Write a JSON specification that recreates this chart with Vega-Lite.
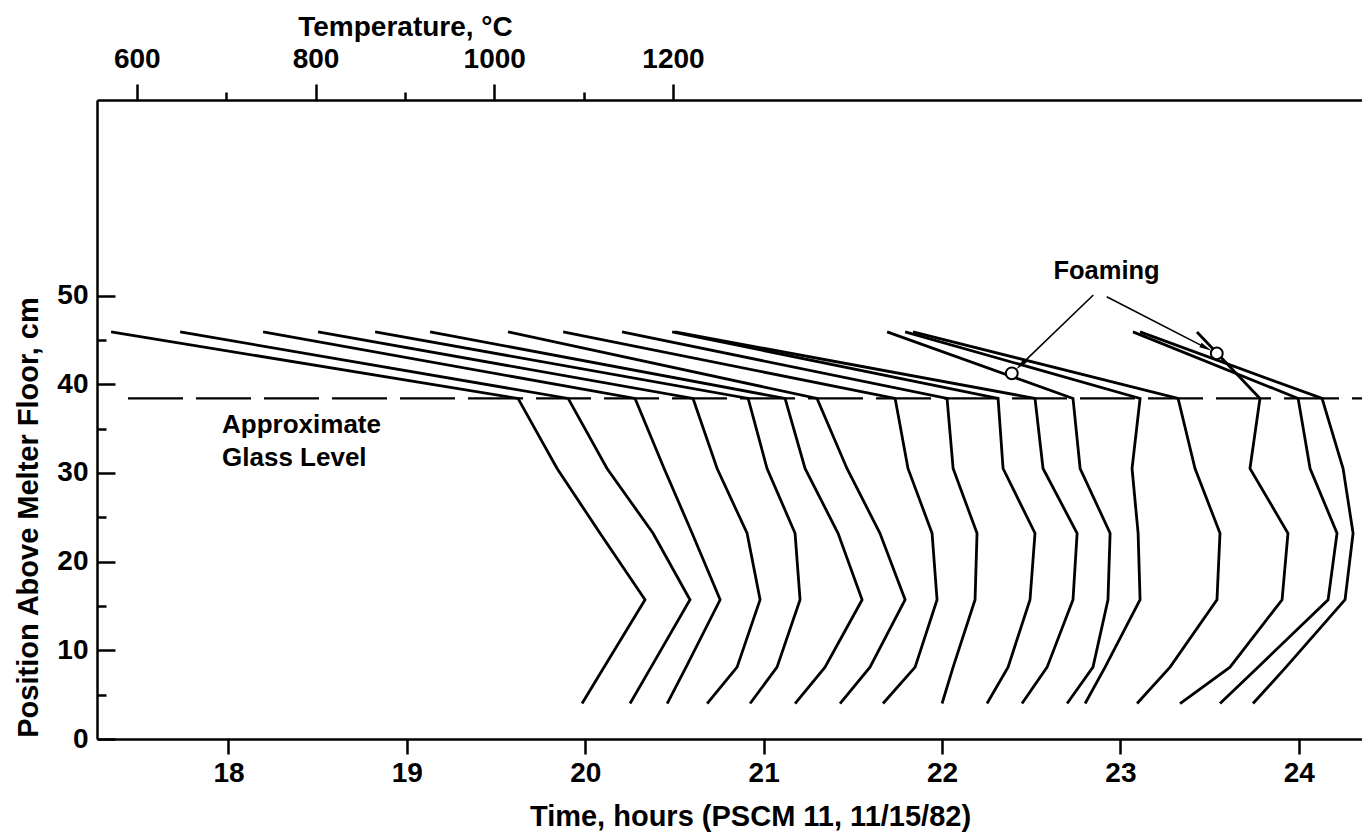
{
  "$schema": "https://vega.github.io/schema/vega-lite/v6.json",
  "width": 1265,
  "height": 639,
  "autosize": {"type": "none"},
  "padding": {"left": 97, "top": 100, "right": 0, "bottom": 95},
  "background": "white",
  "config": {
    "view": {"stroke": null},
    "axis": {
      "grid": false,
      "domainColor": "black",
      "domainWidth": 2.5,
      "tickColor": "black",
      "tickWidth": 2.5,
      "labelColor": "black",
      "titleColor": "black",
      "labelFont": "Liberation Sans",
      "titleFont": "Liberation Sans",
      "labelFontWeight": "bold",
      "titleFontWeight": "bold",
      "labelFontSize": 28,
      "titleFontSize": 28,
      "labelFlush": false,
      "labelOverlap": false
    }
  },
  "datasets": {
    "prof": [
      {"p": 1, "t": 17.342, "h": 45.9}, {"p": 1, "t": 19.623, "h": 38.4}, {"p": 1, "t": 19.842, "h": 30.5}, {"p": 1, "t": 20.083, "h": 23.2}, {"p": 1, "t": 20.335, "h": 15.7}, {"p": 1, "t": 20.105, "h": 8.1}, {"p": 1, "t": 19.982, "h": 4.0},
      {"p": 2, "t": 17.729, "h": 45.9}, {"p": 2, "t": 19.904, "h": 38.4}, {"p": 2, "t": 20.122, "h": 30.5}, {"p": 2, "t": 20.380, "h": 23.2}, {"p": 2, "t": 20.587, "h": 15.7}, {"p": 2, "t": 20.369, "h": 8.1}, {"p": 2, "t": 20.251, "h": 4.0},
      {"p": 3, "t": 18.194, "h": 45.9}, {"p": 3, "t": 20.279, "h": 38.4}, {"p": 3, "t": 20.442, "h": 30.5}, {"p": 3, "t": 20.599, "h": 23.2}, {"p": 3, "t": 20.756, "h": 15.7}, {"p": 3, "t": 20.565, "h": 8.1}, {"p": 3, "t": 20.459, "h": 4.0},
      {"p": 4, "t": 18.502, "h": 45.9}, {"p": 4, "t": 20.604, "h": 38.4}, {"p": 4, "t": 20.739, "h": 30.5}, {"p": 4, "t": 20.907, "h": 23.2}, {"p": 4, "t": 20.980, "h": 15.7}, {"p": 4, "t": 20.851, "h": 8.1}, {"p": 4, "t": 20.683, "h": 4.0},
      {"p": 5, "t": 18.822, "h": 45.9}, {"p": 5, "t": 20.913, "h": 38.4}, {"p": 5, "t": 21.019, "h": 30.5}, {"p": 5, "t": 21.176, "h": 23.2}, {"p": 5, "t": 21.204, "h": 15.7}, {"p": 5, "t": 21.075, "h": 8.1}, {"p": 5, "t": 20.924, "h": 4.0},
      {"p": 6, "t": 19.130, "h": 45.9}, {"p": 6, "t": 21.120, "h": 38.4}, {"p": 6, "t": 21.232, "h": 30.5}, {"p": 6, "t": 21.417, "h": 23.2}, {"p": 6, "t": 21.552, "h": 15.7}, {"p": 6, "t": 21.344, "h": 8.1}, {"p": 6, "t": 21.176, "h": 4.0},
      {"p": 7, "t": 19.567, "h": 45.9}, {"p": 7, "t": 21.299, "h": 38.4}, {"p": 7, "t": 21.467, "h": 30.5}, {"p": 7, "t": 21.652, "h": 23.2}, {"p": 7, "t": 21.793, "h": 15.7}, {"p": 7, "t": 21.596, "h": 8.1}, {"p": 7, "t": 21.428, "h": 4.0},
      {"p": 8, "t": 19.876, "h": 45.9}, {"p": 8, "t": 21.737, "h": 38.4}, {"p": 8, "t": 21.809, "h": 30.5}, {"p": 8, "t": 21.944, "h": 23.2}, {"p": 8, "t": 21.972, "h": 15.7}, {"p": 8, "t": 21.849, "h": 8.1}, {"p": 8, "t": 21.669, "h": 4.0},
      {"p": 9, "t": 20.206, "h": 45.9}, {"p": 9, "t": 22.028, "h": 38.4}, {"p": 9, "t": 22.062, "h": 30.5}, {"p": 9, "t": 22.196, "h": 23.2}, {"p": 9, "t": 22.185, "h": 15.7}, {"p": 9, "t": 22.062, "h": 8.1}, {"p": 9, "t": 22.000, "h": 4.0},
      {"p": 10, "t": 20.487, "h": 45.9}, {"p": 10, "t": 22.314, "h": 38.4}, {"p": 10, "t": 22.342, "h": 30.5}, {"p": 10, "t": 22.521, "h": 23.2}, {"p": 10, "t": 22.493, "h": 15.7}, {"p": 10, "t": 22.370, "h": 8.1}, {"p": 10, "t": 22.252, "h": 4.0},
      {"p": 11, "t": 20.503, "h": 45.9}, {"p": 11, "t": 22.521, "h": 38.4}, {"p": 11, "t": 22.566, "h": 30.5}, {"p": 11, "t": 22.757, "h": 23.2}, {"p": 11, "t": 22.734, "h": 15.7}, {"p": 11, "t": 22.589, "h": 8.1}, {"p": 11, "t": 22.448, "h": 4.0},
      {"p": 12, "t": 21.692, "h": 45.9}, {"p": 12, "t": 22.734, "h": 38.4}, {"p": 12, "t": 22.774, "h": 30.5}, {"p": 12, "t": 22.942, "h": 23.2}, {"p": 12, "t": 22.930, "h": 15.7}, {"p": 12, "t": 22.846, "h": 8.1}, {"p": 12, "t": 22.701, "h": 4.0},
      {"p": 13, "t": 21.793, "h": 45.9}, {"p": 13, "t": 23.110, "h": 38.4}, {"p": 13, "t": 23.065, "h": 30.5}, {"p": 13, "t": 23.099, "h": 23.2}, {"p": 13, "t": 23.110, "h": 15.7}, {"p": 13, "t": 22.914, "h": 8.1}, {"p": 13, "t": 22.802, "h": 4.0},
      {"p": 14, "t": 21.837, "h": 45.9}, {"p": 14, "t": 23.323, "h": 38.4}, {"p": 14, "t": 23.418, "h": 30.5}, {"p": 14, "t": 23.558, "h": 23.2}, {"p": 14, "t": 23.541, "h": 15.7}, {"p": 14, "t": 23.278, "h": 8.1}, {"p": 14, "t": 23.093, "h": 4.0},
      {"p": 15, "t": 23.429, "h": 45.9}, {"p": 15, "t": 23.782, "h": 38.4}, {"p": 15, "t": 23.726, "h": 30.5}, {"p": 15, "t": 23.939, "h": 23.2}, {"p": 15, "t": 23.906, "h": 15.7}, {"p": 15, "t": 23.614, "h": 8.1}, {"p": 15, "t": 23.334, "h": 4.0},
      {"p": 16, "t": 23.070, "h": 45.9}, {"p": 16, "t": 23.996, "h": 38.4}, {"p": 16, "t": 24.063, "h": 30.5}, {"p": 16, "t": 24.214, "h": 23.2}, {"p": 16, "t": 24.164, "h": 15.7}, {"p": 16, "t": 23.771, "h": 8.1}, {"p": 16, "t": 23.558, "h": 4.0},
      {"p": 17, "t": 23.110, "h": 45.9}, {"p": 17, "t": 24.130, "h": 38.4}, {"p": 17, "t": 24.248, "h": 30.5}, {"p": 17, "t": 24.304, "h": 23.2}, {"p": 17, "t": 24.259, "h": 15.7}, {"p": 17, "t": 23.928, "h": 8.1}, {"p": 17, "t": 23.743, "h": 4.0}
    ],
    "glass": [{"t1": 17.437, "t2": 24.354, "h": 38.4}],
    "arrows": [
      {"t": 22.848, "h": 50.06, "t2": 22.440, "h2": 42.15},
      {"t": 22.923, "h": 49.86, "t2": 23.480, "h2": 44.10}
    ],
    "head1": [{"t": 22.440, "h": 42.15}],
    "head2": [{"t": 23.480, "h": 44.10}],
    "foam": [{"t": 22.391, "h": 41.23}, {"t": 23.540, "h": 43.48}],
    "labels": [
      {"t": 17.964, "h": 34.5, "label": "Approximate"},
      {"t": 17.964, "h": 30.8, "label": "Glass Level"}
    ],
    "foamlabel": [{"t": 22.922, "h": 51.86, "label": "Foaming"}],
    "temp": [{"T": 600}, {"T": 1200}]
  },
  "layer": [
    {
      "layer": [
        {
          "data": {"name": "glass"},
          "mark": {"type": "rule", "strokeDash": [55, 13], "strokeWidth": 2.2, "color": "black"},
          "encoding": {
            "x": {
              "field": "t1", "type": "quantitative", "title": "Time, hours (PSCM 11, 11/15/82)",
              "scale": {"domain": [17.263, 24.354], "nice": false, "zero": false},
              "axis": {
                "orient": "bottom",
                "values": [18, 19, 20, 21, 22, 23, 24],
                "format": "d",
                "tickSize": 15,
                "labelPadding": 5,
                "titleFontSize": 29,
                "titleX": 653,
                "titleY": 86,
                "titleBaseline": "alphabetic",
                "titleAlign": "center"
              }
            },
            "x2": {"field": "t2"},
            "y": {
              "field": "h", "type": "quantitative", "title": "Position Above Melter Floor, cm",
              "scale": {"domain": [0, 72.05], "nice": false, "zero": false},
              "axis": {
                "values": [0, 5, 10, 15, 20, 25, 30, 35, 40, 45, 50],
                "format": "d",
                "labelExpr": "datum.value % 10 === 0 ? datum.label : ''",
                "tickSize": {"condition": {"test": "datum.value % 10 === 0", "value": -18}, "value": -9},
                "labelPadding": 27,
                "titleFontSize": 29,
                "titleX": -60,
                "titleY": 417,
                "titleBaseline": "alphabetic",
                "titleAlign": "center",
                "titleAngle": -90
              }
            }
          }
        },
        {
          "data": {"name": "prof"},
          "mark": {"type": "line", "color": "black", "strokeWidth": 2.8},
          "encoding": {
            "x": {"field": "t", "type": "quantitative", "title": "Time, hours (PSCM 11, 11/15/82)"},
            "y": {"field": "h", "type": "quantitative", "title": "Position Above Melter Floor, cm"},
            "detail": {"field": "p"},
            "order": {"field": "h", "sort": "descending"}
          }
        },
        {
          "data": {"name": "arrows"},
          "mark": {"type": "rule", "color": "black", "strokeWidth": 1.6},
          "encoding": {
            "x": {"field": "t", "type": "quantitative", "title": "Time, hours (PSCM 11, 11/15/82)"},
            "y": {"field": "h", "type": "quantitative", "title": "Position Above Melter Floor, cm"},
            "x2": {"field": "t2"},
            "y2": {"field": "h2"}
          }
        },
        {
          "data": {"name": "head1"},
          "mark": {"type": "point", "shape": "M0,-1L0.38,1L-0.38,1Z", "size": 160, "filled": true, "color": "black", "opacity": 1, "angle": 226},
          "encoding": {
            "x": {"field": "t", "type": "quantitative", "title": "Time, hours (PSCM 11, 11/15/82)"},
            "y": {"field": "h", "type": "quantitative", "title": "Position Above Melter Floor, cm"}
          }
        },
        {
          "data": {"name": "head2"},
          "mark": {"type": "point", "shape": "M0,-1L0.38,1L-0.38,1Z", "size": 160, "filled": true, "color": "black", "opacity": 1, "angle": 117},
          "encoding": {
            "x": {"field": "t", "type": "quantitative", "title": "Time, hours (PSCM 11, 11/15/82)"},
            "y": {"field": "h", "type": "quantitative", "title": "Position Above Melter Floor, cm"}
          }
        },
        {
          "data": {"name": "foam"},
          "mark": {"type": "point", "shape": "circle", "size": 140, "filled": true, "fill": "white", "stroke": "black", "strokeWidth": 2, "opacity": 1},
          "encoding": {
            "x": {"field": "t", "type": "quantitative", "title": "Time, hours (PSCM 11, 11/15/82)"},
            "y": {"field": "h", "type": "quantitative", "title": "Position Above Melter Floor, cm"}
          }
        },
        {
          "data": {"name": "labels"},
          "mark": {"type": "text", "font": "Liberation Sans", "fontWeight": "bold", "fontSize": 26, "align": "left", "baseline": "alphabetic", "color": "black"},
          "encoding": {
            "x": {"field": "t", "type": "quantitative", "title": "Time, hours (PSCM 11, 11/15/82)"},
            "y": {"field": "h", "type": "quantitative", "title": "Position Above Melter Floor, cm"},
            "text": {"field": "label"}
          }
        },
        {
          "data": {"name": "foamlabel"},
          "mark": {"type": "text", "font": "Liberation Sans", "fontWeight": "bold", "fontSize": 25.5, "align": "center", "baseline": "alphabetic", "color": "black"},
          "encoding": {
            "x": {"field": "t", "type": "quantitative", "title": "Time, hours (PSCM 11, 11/15/82)"},
            "y": {"field": "h", "type": "quantitative", "title": "Position Above Melter Floor, cm"},
            "text": {"field": "label"}
          }
        }
      ]
    },
    {
      "data": {"name": "temp"},
      "mark": {"type": "point", "opacity": 0},
      "encoding": {
        "x": {
          "field": "T", "type": "quantitative", "title": "Temperature, °C",
          "scale": {"domain": [555.5, 1971], "nice": false, "zero": false},
          "axis": {
            "orient": "top",
            "values": [600, 700, 800, 900, 1000, 1100, 1200],
            "format": "d",
            "labelExpr": "datum.value % 200 === 0 ? datum.label : ''",
            "tickSize": {"condition": {"test": "datum.value % 200 === 0", "value": 16}, "value": 8},
            "labelPadding": 11,
            "titleX": 308,
            "titleY": -65,
            "titleBaseline": "alphabetic",
            "titleAlign": "center"
          }
        }
      }
    }
  ],
  "resolve": {"scale": {"x": "independent"}, "axis": {"x": "independent"}}
}
